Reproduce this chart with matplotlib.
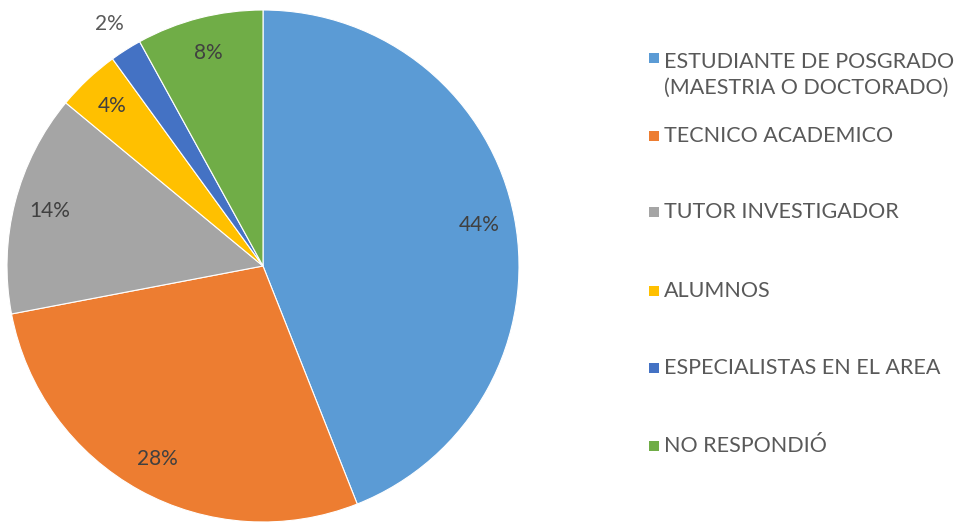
import matplotlib
matplotlib.use("Agg")
import matplotlib.pyplot as plt
import matplotlib.patches as mpatches
import numpy as np

# Data
categories = [
    "ESTUDIANTE DE POSGRADO\n(MAESTRIA O DOCTORADO)",
    "TECNICO ACADEMICO",
    "TUTOR INVESTIGADOR",
    "ALUMNOS",
    "ESPECIALISTAS EN EL AREA",
    "NO RESPONDIÓ",
]
percentages = [44, 28, 14, 4, 2, 8]
colors = ["#5B9BD5", "#ED7D31", "#A5A5A5", "#FFC000", "#4472C4", "#70AD47"]

plt.rcParams["font.family"] = ["Lato", "DejaVu Sans"]

fig = plt.figure(figsize=(9.59, 5.23), dpi=100)
fig.patch.set_facecolor("white")

# Pie axes: square box so the pie fills it
ax = fig.add_axes([7 / 959, 1 / 523, 512 / 959, 512 / 523])
wedges, texts, autotexts = ax.pie(
    percentages,
    colors=colors,
    startangle=90,
    counterclock=False,
    radius=1.0,
    autopct="%d%%",
    pctdistance=0.86,
    wedgeprops=dict(edgecolor="white", linewidth=0.8),
    textprops=dict(color="#404040", fontsize=15),
)
ax.set_xlim(-1, 1)
ax.set_ylim(-1, 1)
ax.set_aspect("equal")
ax.axis("off")

# Small slice label sits outside the pie
small = percentages.index(2)
w = wedges[small]
ang = np.deg2rad((w.theta1 + w.theta2) / 2)
autotexts[small].set_position((1.12 * np.cos(ang), 1.12 * np.sin(ang)))
autotexts[small].set_color("#595959")

# Legend, laid out like the spreadsheet legend (pixel rows from the top)
legend_rows = [75, 136, 212, 291, 368, 446]
for label, color, row in zip(categories, colors, legend_rows):
    marker_row = row
    if "\n" in label:
        marker_row = row - 17
    fig.patches.append(mpatches.Rectangle((649 / 959, 1 - (marker_row + 5) / 523), 10 / 959, 10 / 523,
                                          transform=fig.transFigure, facecolor=color,
                                          edgecolor="none"))
    fig.text(664 / 959, 1 - row / 523, label, fontsize=15.5, color="#595959",
             va="center", ha="left", linespacing=1.4)

plt.savefig("out.png", dpi=100, facecolor="white")
